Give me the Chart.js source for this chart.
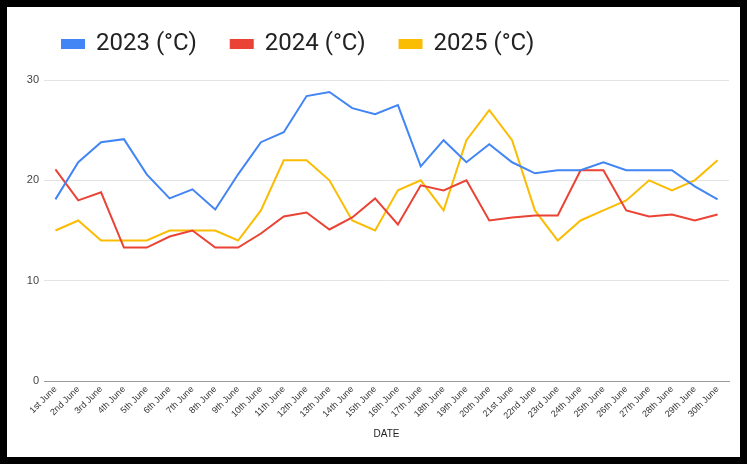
<!DOCTYPE html>
<html>
<head>
<meta charset="utf-8">
<script src="https://cdn.jsdelivr.net/npm/chart.js@4"></script>
<style>
  html, body { margin: 0; padding: 0; background: #ffffff; }
  #frame { position: absolute; left: 0; top: 0; width: 747px; height: 464px; box-sizing: border-box; border: 7px solid #000; background: #fff; overflow: hidden; }
  canvas { display: block; }
</style>
</head>
<body>
<div id="frame"><canvas id="c" width="733" height="450"></canvas></div>
<script>
const dates = ["1st June","2nd June","3rd June","4th June","5th June","6th June","7th June","8th June","9th June","10th June",
  "11th June","12th June","13th June","14th June","15th June","16th June","17th June","18th June","19th June","20th June",
  "21st June","22nd June","23rd June","24th June","25th June","26th June","27th June","28th June","29th June","30th June"];
const temps2023 = [18.1, 21.8, 23.8, 24.1, 20.6, 18.2, 19.1, 17.1, 20.6, 23.8, 24.8, 28.4, 28.8, 27.2, 26.6,
  27.5, 21.4, 24.0, 21.8, 23.6, 21.8, 20.7, 21.0, 21.0, 21.8, 21.0, 21.0, 21.0, 19.4, 18.1];
const temps2024 = [21.1, 18.0, 18.8, 13.3, 13.3, 14.4, 15.0, 13.3, 13.3, 14.7, 16.4, 16.8, 15.1, 16.3, 18.2,
  15.6, 19.5, 19.0, 20.0, 16.0, 16.3, 16.5, 16.5, 21.0, 21.0, 17.0, 16.4, 16.6, 16.0, 16.6];
const temps2025 = [15, 16, 14, 14, 14, 15, 15, 15, 14, 17, 22, 22, 20, 16, 15,
  19, 20, 17, 24, 27, 24, 17, 14, 16, 17, 18, 20, 19, 20, 22];
const seriesNames = ["2023 (°C)", "2024 (°C)", "2025 (°C)"];
const yTicks = [0, 10, 20, 30];
const xTitle = "DATE";

const colors = ["#4285F4", "#EA4335", "#FBBC04"];
const mk = (label, data, color) => ({
  label, data, borderColor: color, backgroundColor: color, borderWidth: 2,
  pointRadius: 0, pointHoverRadius: 0, tension: 0, fill: false
});

const legendShift = {
  id: 'legendShift',
  afterLayout(chart) {
    const lg = chart.legend;
    if (!lg) return;
    const h = lg.height;
    lg.left = 21; lg.top = -9; lg.bottom = lg.top + h;
  }
};

new Chart(document.getElementById('c'), {
  type: 'line',
  data: {
    labels: dates,
    datasets: [
      mk(seriesNames[0], temps2023, colors[0]),
      mk(seriesNames[1], temps2024, colors[1]),
      mk(seriesNames[2], temps2025, colors[2])
    ]
  },
  plugins: [legendShift],
  options: {
    responsive: false,
    animation: false,
    layout: { padding: { top: 5, right: 11, bottom: 0, left: 0 } },
    plugins: {
      tooltip: { enabled: false },
      legend: {
        position: 'top',
        align: 'start',
        labels: {
          boxWidth: 22, boxHeight: 8, padding: 34, color: '#222',
          font: { family: 'Roboto', size: 24 }
        }
      }
    },
    scales: {
      x: {
        offset: true,
        grid: { display: false, drawTicks: false },
        border: { display: true, color: '#9a9a9a', width: 1 },
        ticks: {
          autoSkip: false, minRotation: 45, maxRotation: 45, padding: 3,
          color: '#333', font: { family: 'Liberation Sans', size: 9 }
        },
        title: { display: true, text: xTitle, color: '#222', font: { family: 'Liberation Sans', size: 10 }, padding: { top: 4, bottom: 17 } },
        afterFit(scale) { scale.height = 76; }
      },
      y: {
        min: 0, max: 30,
        afterBuildTicks(scale) { scale.ticks = yTicks.map(v => ({ value: v })); },
        grid: { color: '#e3e3e3', drawTicks: false, lineWidth: 1 },
        border: { display: false },
        ticks: { padding: 5, color: '#444', font: { family: 'Liberation Sans', size: 11 } },
        afterFit(scale) { scale.width = 37; }
      }
    }
  }
});
</script>
</body>
</html>
